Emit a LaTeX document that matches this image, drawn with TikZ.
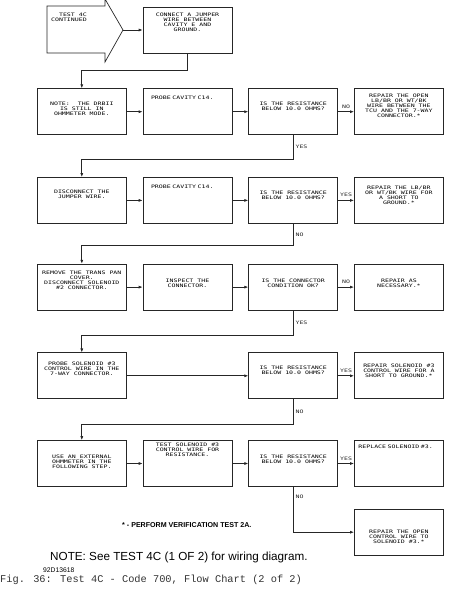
\documentclass[tikz,border=0pt]{standalone}
\usepackage{fontspec}
\setmainfont{Liberation Sans}
\newfontfamily\plotfont[FakeStretch=1.4]{DejaVu Sans Mono}
\newfontfamily\capfont{Liberation Mono}
\newcommand\plotsmall{\plotfont\fontsize{4.7}{5}\selectfont}
\usetikzlibrary{arrows.meta, positioning}
\tikzset{
    box/.style={draw=black!85, line width=0.7pt, minimum width=89pt, minimum height=46pt, inner sep=0pt, align=center, font=\plotsmall},
    arrow/.style={-{Latex[length=4pt,width=3pt]}, line width=0.7pt, black!85},
    link/.style={line width=0.7pt, black!85},
    lbl/.style={font=\plotsmall, inner sep=2pt}
}

\begin{document}
\begin{tikzpicture}[x=1pt, y=-1pt]
    \useasboundingbox (0,0) rectangle (450,591);
    % start marker
    \draw [link] (47,6) -- (105,6) -- (105,-1) -- (123,30) -- (105,62) -- (105,53) -- (47,53) -- cycle;
    \node [font=\plotsmall, align=right, anchor=north east, inner sep=0pt] (cont) at (87,13) {TEST 4C\\CONTINUED};
    \coordinate (tip) at (123,30);
    \node [box, text depth=15.2pt] (jumper) at (187.5,30) {CONNECT A JUMPER\\WIRE BETWEEN\\CAVITY E AND\\GROUND.};

    % row 2
    \node [box, below left=35pt and 16pt of jumper, text depth=6.2pt] (note) {NOTE:~ THE DRBII\\IS STILL IN\\OHMMETER MODE.};
    \node [box, right=16pt of note, text width=73pt, align=left, text depth=28.2pt] (cav1) {PROBE CAVITY C14.};
    \node [box, right=16pt of cav1, text depth=11.2pt] (res1) {IS THE RESISTANCE\\BELOW 10.0 OHMS?};
    \node [box, right=16pt of res1, text depth=12.2pt] (open1) {REPAIR THE OPEN\\LB/BR OR WT/BK\\WIRE BETWEEN THE\\TCU AND THE 7-WAY\\CONNECTOR.*};

    % row 3
    \node [box, below=42pt of note, text depth=13.2pt] (dis) {DISCONNECT THE\\JUMPER WIRE.};
    \node [box, right=16pt of dis, text width=73pt, align=left, text depth=28.2pt] (cav2) {PROBE CAVITY C14.};
    \node [box, right=16pt of cav2, text depth=11.2pt] (res2) {IS THE RESISTANCE\\BELOW 10.0 OHMS?};
    \node [box, right=16pt of res2, text depth=11.2pt] (short1) {REPAIR THE LB/BR\\OR WT/BK WIRE FOR\\A SHORT TO\\GROUND.*};

    % row 4
    \node [box, below=40pt of dis, text depth=14.2pt] (pan) {REMOVE THE TRANS PAN\\COVER.\\DISCONNECT SOLENOID\\\#2 CONNECTOR.};
    \node [box, right=16pt of pan, text depth=8.2pt] (insp) {INSPECT THE\\CONNECTOR.};
    \node [box, right=16pt of insp, text depth=8.2pt] (cond) {IS THE CONNECTOR\\CONDITION OK?};
    \node [box, right=16pt of cond, text depth=8.2pt] (nec) {REPAIR AS\\NECESSARY.*};

    % row 5
    \node [box, below=42pt of pan, text depth=14.2pt] (psol) {PROBE SOLENOID \#3\\CONTROL WIRE IN THE\\7-WAY CONNECTOR.};
    \node [box, below=42pt of cond, text depth=11.8pt] (res3) {IS THE RESISTANCE\\BELOW 10.0 OHMS?};
    \node [box, right=16pt of res3, text depth=10.2pt] (short2) {REPAIR SOLENOID \#3\\CONTROL WIRE FOR A\\SHORT TO GROUND.*};

    % row 6
    \node [box, below=41pt of psol, text depth=4.2pt] (ext) {USE AN EXTERNAL\\OHMMETER IN THE\\FOLLOWING STEP.};
    \node [box, right=16pt of ext, text depth=27.6pt] (tsol) {TEST SOLENOID \#3\\CONTROL WIRE FOR\\RESISTANCE.};
    \node [box, right=16pt of tsol, text depth=9.2pt] (res4) {IS THE RESISTANCE\\BELOW 10.0 OHMS?};
    \node [box, right=16pt of res4, text width=81pt, align=left, text depth=34.2pt] (repl) {REPLACE SOLENOID \#3.};
    \node [box, below=22pt of repl, text height=23pt, text depth=0pt] (open2) {REPAIR THE OPEN\\CONTROL WIRE TO\\SOLENOID \#3.*};

    % connectors
    \draw [arrow] (tip) -- (jumper);
    \draw [arrow] (jumper.south) -- ++(0,17) -| (note.north);
    \draw [arrow] (note) -- (cav1);
    \draw [arrow] (cav1) -- (res1);
    \draw [arrow] (res1) -- node [lbl, above, yshift=1pt] {NO} (open1);
    \draw [arrow] (res1.south) -- ++(0,24) node [lbl, midway, right] {YES} -| (dis.north);
    \draw [arrow] (dis) -- (cav2);
    \draw [arrow] (cav2) -- (res2);
    \draw [arrow] (res2) -- node [lbl, above, yshift=1pt] {YES} (short1);
    \draw [arrow] (res2.south) -- ++(0,22) node [lbl, midway, right] {NO} -| (pan.north);
    \draw [arrow] (pan) -- (insp);
    \draw [arrow] (insp) -- (cond);
    \draw [arrow] (cond) -- node [lbl, above, yshift=1pt] {NO} (nec);
    \draw [arrow] (cond.south) -- ++(0,25) node [lbl, midway, right] {YES} -| (psol.north);
    \draw [arrow] (psol) -- (res3);
    \draw [arrow] (res3) -- node [lbl, above, yshift=1pt] {YES} (short2);
    \draw [arrow] (res3.south) -- ++(0,25) node [lbl, midway, right] {NO} -| (ext.north);
    \draw [arrow] (ext) -- (tsol);
    \draw [arrow] (tsol) -- (res4);
    \draw [arrow] (res4) -- node [lbl, above, yshift=1pt] {YES} (repl);
    \draw [arrow] (res4.south) |- node [lbl, pos=0.11, right] {NO} (open2);

    % notes
    \node [anchor=west, inner sep=0pt, font=\bfseries\fontsize{7.1}{8}\selectfont] (perf) at (122,525) {* - PERFORM VERIFICATION TEST 2A.};
    \node [anchor=west, inner sep=0pt, font=\fontsize{11.7}{13}\selectfont] (wiring) at (50,557) {NOTE: See TEST 4C (1 OF 2) for wiring diagram.};
    \node [anchor=west, inner sep=0pt, font=\fontsize{6.75}{8}\selectfont] (code) at (43,570) {92D13618};
    \node [anchor=west, inner sep=0pt, font=\capfont\fontsize{10.33}{12}\selectfont, black!80] (fig) at (0,580) {Fig. 36: Test 4C - Code 700, Flow Chart (2 of 2)};
\end{tikzpicture}
\end{document}
